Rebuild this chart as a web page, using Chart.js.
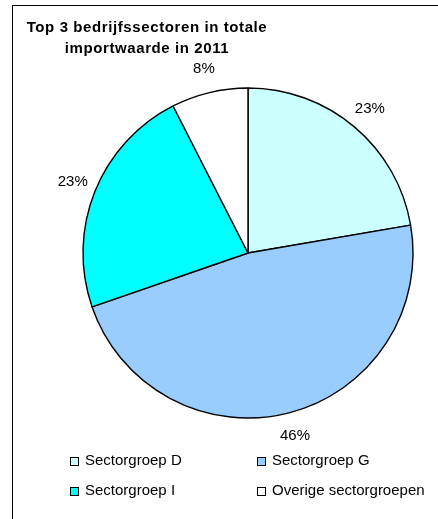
<!DOCTYPE html>
<html>
<head>
<meta charset="utf-8">
<script src="https://cdn.jsdelivr.net/npm/chart.js@4.4.1/dist/chart.umd.min.js"></script>
<style>
  html, body { margin: 0; padding: 0; background: #fff; }
  #wrap { width: 438px; height: 519px; }
</style>
</head>
<body>
<div id="wrap"><canvas id="pie" width="438" height="519"></canvas></div>
<script>
// chart data
const sectors = ["Sectorgroep D", "Sectorgroep G", "Sectorgroep I", "Overige sectorgroepen"];
const shares = [22.3, 47.4, 22.8, 7.5];
const pctLabels = ["23%", "46%", "23%", "8%"];
const sliceColors = ["#CCFFFF", "#99CCFF", "#00FFFF", "#FFFFFF"];
const titleLines = ["Top 3 bedrijfssectoren in totale", "importwaarde in 2011"];

const FONT = "'Liberation Sans', Arial, sans-serif";

// frame, title, outside labels and the 2-column legend
const excelBits = {
  id: "excelBits",
  afterDraw(chart) {
    const ctx = chart.ctx;
    ctx.save();
    // frame (only left/top fall inside the picture)
    ctx.strokeStyle = "#000";
    ctx.lineWidth = 1;
    ctx.strokeRect(12.5, 5.5, 600, 600);

    // title
    ctx.fillStyle = "#000";
    ctx.font = "bold 15px " + FONT;
    ctx.letterSpacing = "0.6px";
    ctx.textAlign = "center";
    ctx.textBaseline = "middle";
    titleLines.forEach((t, i) => ctx.fillText(t, 147, 28 + i * 21));
    ctx.letterSpacing = "0px";

    // percentage labels outside the slices
    const meta = chart.getDatasetMeta(0);
    ctx.font = "15px " + FONT;
    meta.data.forEach((arc, i) => {
      const p = arc.getProps(["x", "y", "startAngle", "endAngle", "outerRadius"], true);
      const mid = (p.startAngle + p.endAngle) / 2;
      const r = p.outerRadius + 24;
      ctx.fillText(pctLabels[i], p.x + Math.cos(mid) * r, p.y + Math.sin(mid) * r);
    });

    // legend
    const colX = [70, 257];
    const rowY = [461, 491];
    ctx.textAlign = "left";
    sectors.forEach((name, i) => {
      const x = colX[i % 2];
      const y = rowY[Math.floor(i / 2)];
      ctx.fillStyle = sliceColors[i];
      ctx.fillRect(x + 0.5, y - 3.5, 8, 8);
      ctx.strokeStyle = "#000";
      ctx.strokeRect(x + 0.5, y - 3.5, 8, 8);
      ctx.fillStyle = "#000";
      ctx.fillText(name, x + 15, y);
    });
    ctx.restore();
  }
};

new Chart(document.getElementById("pie"), {
  type: "pie",
  data: {
    labels: sectors,
    datasets: [{
      data: shares,
      backgroundColor: sliceColors,
      borderColor: "#000",
      borderWidth: 1.4,
      radius: 165
    }]
  },
  options: {
    responsive: false,
    animation: false,
    layout: { padding: { left: 78, right: 20, top: 83, bottom: 96 } },
    plugins: {
      legend: { display: false },
      tooltip: { enabled: false }
    }
  },
  plugins: [excelBits]
});
</script>
</body>
</html>
